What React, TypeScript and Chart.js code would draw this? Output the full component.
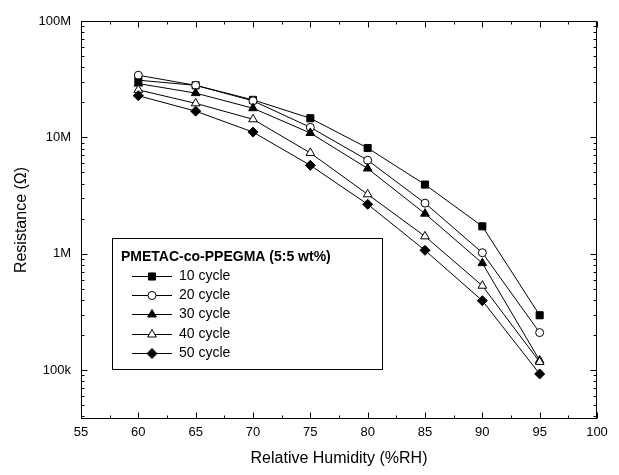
import React, { useEffect, useRef } from 'react';
import { Chart, registerables } from 'chart.js';
import { drawPoint } from 'chart.js/helpers';

Chart.register(...registerables);

const humidity = [60, 65, 70, 75, 80, 85, 90, 95];
const cycle10 = [31e6, 28e6, 21e6, 14.6e6, 8.1e6, 3.93e6, 1.72e6, 0.296e6];
const cycle20 = [34.2e6, 28e6, 20.6e6, 12.2e6, 6.36e6, 2.72e6, 1.02e6, 0.21e6];
const cycle30 = [29e6, 24e6, 17.8e6, 10.9e6, 5.4e6, 2.21e6, 0.83e6, 0.121e6];
const cycle40 = [25.6e6, 19.6e6, 14.3e6, 7.35e6, 3.24e6, 1.41e6, 0.531e6, 0.1175e6];
const cycle50 = [22.8e6, 16.8e6, 11.1e6, 5.75e6, 2.66e6, 1.07e6, 0.395e6, 0.0927e6];
const seriesLabels = ['10 cycle', '20 cycle', '30 cycle', '40 cycle', '50 cycle'];
const legendTitle = 'PMETAC-co-PPEGMA (5:5 wt%)';
const xTicks = [55, 60, 65, 70, 75, 80, 85, 90, 95, 100];
const yTickValues = [1e5, 1e6, 1e7, 1e8];
const yTickLabels = ['100k', '1M', '10M', '100M'];
const xTitle = 'Relative Humidity (%RH)';
const yTitle = 'Resistance (\u03A9)';

const FONT = '"Liberation Sans", Arial, Helvetica, sans-serif';

const styles = [
  { pointStyle: 'rect', fill: '#000', radius: 5 },
  { pointStyle: 'circle', fill: '#fff', radius: 4 },
  { pointStyle: 'triangle', fill: '#000', radius: 5 },
  { pointStyle: 'triangle', fill: '#fff', radius: 5 },
  { pointStyle: 'rectRot', fill: '#000', radius: 5 },
];

const frameTicks = {
  id: 'frameTicks',
  afterDatasetsDraw(chart: any) {
    const { ctx, chartArea, scales } = chart;
    const xs = scales.x;
    const ys = scales.y;
    const L = Math.round(chartArea.left) + 0.5;
    const R = Math.round(chartArea.right) - 0.5;
    const T = Math.round(chartArea.top) + 0.5;
    const B = Math.round(chartArea.bottom) - 0.5;
    ctx.save();
    ctx.strokeStyle = '#000';
    ctx.lineWidth = 1;
    ctx.strokeRect(L, T, R - L, B - T);
    ctx.beginPath();
    for (let v = xs.min; v <= xs.max + 1e-9; v += 2.5) {
      const px = Math.round(xs.getPixelForValue(v)) + 0.5;
      const major = Math.abs(v % 5) < 1e-9;
      const len = major ? 6 : 3;
      ctx.moveTo(px, B);
      ctx.lineTo(px, B - len);
      ctx.moveTo(px, T);
      ctx.lineTo(px, T + len);
    }
    for (let d = 4; d <= 8; d++) {
      for (let m = 1; m <= 9; m++) {
        const v = m * Math.pow(10, d);
        if (v < ys.min - 1e-6 || v > ys.max + 1e-6) continue;
        const py = Math.round(ys.getPixelForValue(v)) + 0.5;
        const len = m === 1 ? 6 : 3;
        ctx.moveTo(L, py);
        ctx.lineTo(L + len, py);
        ctx.moveTo(R, py);
        ctx.lineTo(R - len, py);
      }
    }
    ctx.stroke();
    ctx.restore();
  },
};

const boxLegend = {
  id: 'boxLegend',
  afterDraw(chart: any) {
    const { ctx } = chart;
    const bx = 112.5, by = 238.5, bw = 270, bh = 131;
    ctx.save();
    ctx.fillStyle = '#fff';
    ctx.fillRect(bx, by, bw, bh);
    ctx.strokeStyle = '#000';
    ctx.lineWidth = 1;
    ctx.strokeRect(bx, by, bw, bh);
    ctx.fillStyle = '#000';
    ctx.textBaseline = 'middle';
    ctx.textAlign = 'left';
    ctx.font = 'bold 14px ' + FONT;
    ctx.fillText(legendTitle, 121, 257);
    ctx.font = '14px ' + FONT;
    chart.data.datasets.forEach((ds: any, i: number) => {
      const y = Math.round(276 + i * 19.2) + 0.5;
      ctx.beginPath();
      ctx.strokeStyle = '#000';
      ctx.lineWidth = 1;
      ctx.moveTo(132, y);
      ctx.lineTo(172, y);
      ctx.stroke();
      ctx.fillStyle = ds.pointBackgroundColor;
      ctx.strokeStyle = '#000';
      drawPoint(ctx, { pointStyle: ds.pointStyle, radius: ds.pointRadius, borderWidth: 1, rotation: 0 }, 152, y);
      ctx.fillStyle = '#000';
      ctx.fillText(ds.label, 179, y);
    });
    ctx.restore();
  },
};

export default function App() {
  const ref = useRef<HTMLCanvasElement | null>(null);
  useEffect(() => {
    if (!ref.current) return;
    const seriesValues = [cycle10, cycle20, cycle30, cycle40, cycle50];
    const datasets = seriesValues.map((vals, i) => ({
      label: seriesLabels[i],
      data: humidity.map((h, j) => ({ x: h, y: vals[j] })),
      order: seriesValues.length - i,
      borderColor: '#000',
      borderWidth: 1,
      pointStyle: styles[i].pointStyle,
      pointRadius: styles[i].radius,
      pointBackgroundColor: styles[i].fill,
      pointBorderColor: '#000',
      pointBorderWidth: 1,
      tension: 0,
      fill: false,
    }));
    const chart = new Chart(ref.current, {
      type: 'line',
      data: { datasets },
      options: {
        animation: false,
        responsive: false,
        layout: { padding: { left: 0, top: 21, right: 22, bottom: 0 } },
        plugins: { legend: { display: false }, tooltip: { enabled: false } },
        scales: {
          x: {
            type: 'linear',
            min: 55,
            max: 100,
            grid: { display: false, drawTicks: false },
            border: { display: false },
            afterBuildTicks: (s: any) => { s.ticks = xTicks.map((v) => ({ value: v })); },
            afterFit: (s: any) => { s.height = 56; },
            ticks: {
              color: '#000',
              font: { size: 13, family: FONT },
              padding: 6,
              maxRotation: 0,
              autoSkip: false,
              callback: (v: any) => String(v),
            },
            title: {
              display: true,
              text: xTitle,
              color: '#000',
              font: { size: 16, family: FONT },
              padding: { top: 0, bottom: 7 },
            },
          },
          y: {
            type: 'logarithmic',
            min: 38000,
            max: 1e8,
            grid: { display: false, drawTicks: false },
            border: { display: false },
            afterBuildTicks: (s: any) => { s.ticks = yTickValues.map((v) => ({ value: v })); },
            afterFit: (s: any) => { s.width = 81; },
            ticks: {
              color: '#000',
              font: { size: 13, family: FONT },
              padding: 10,
              autoSkip: false,
              callback: (_v: any, idx: number) => yTickLabels[idx],
            },
            title: {
              display: true,
              text: yTitle,
              color: '#000',
              font: { size: 16, family: FONT },
              padding: { top: 12, bottom: 0 },
            },
          },
        },
      },
      plugins: [frameTicks, boxLegend],
    } as any);
    return () => chart.destroy();
  }, []);
  return (
    <div style={{ position: 'absolute', left: 0, top: 0, width: 619, height: 475, background: '#fff' }}>
      <canvas ref={ref} width={619} height={475} />
    </div>
  );
}
